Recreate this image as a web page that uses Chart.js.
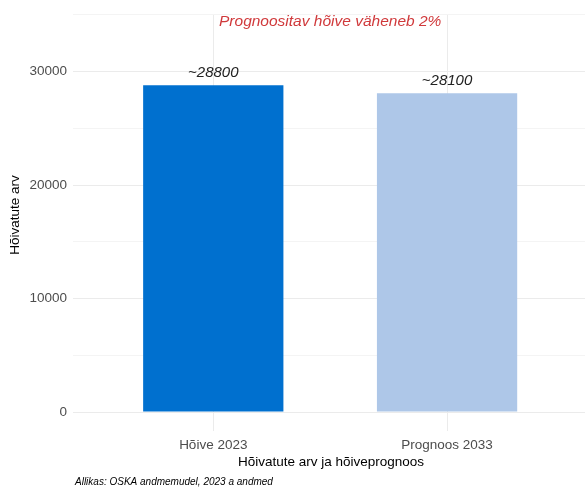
<!DOCTYPE html>
<html lang="et">
<head>
  <meta charset="UTF-8">
  <title>Hõivatute arv ja hõiveprognoos</title>
  <script src="https://cdn.jsdelivr.net/npm/chart.js"></script>
  <style>
    body { margin: 0; background: #fff; }
    #wrap { width: 585px; height: 487px; }
  </style>
</head>
<body>
  <div id="wrap"><canvas id="chartCanvas" width="585" height="487"></canvas></div>

  <script>
    // categories and values
    const categories = ['Hõive 2023', 'Prognoos 2033'];
    const employed = [28800, 28100];
    const barColors = ['#0070cf', '#aec7e8'];
    const valueLabels = ['~28800', '~28100'];
    const yTicks = [0, 5000, 10000, 15000, 20000, 25000, 30000, 35000];

    const subtitle = 'Prognoositav hõive väheneb 2%';
    const yTitle = 'Hõivatute arv';
    const xTitle = 'Hõivatute arv ja hõiveprognoos';
    const caption = 'Allikas: OSKA andmemudel, 2023 a andmed';

    const FONT = '"Liberation Sans", Arial, sans-serif';

    // text drawn on top of the plot: bar values, note, axis titles, source
    const textPlugin = {
      id: 'textPlugin',
      afterDatasetsDraw(chart) {
        const { ctx, scales: { x, y }, chartArea } = chart;
        ctx.save();

        ctx.fillStyle = '#222';
        ctx.font = 'italic 15px ' + FONT;
        ctx.textAlign = 'center';
        ctx.textBaseline = 'middle';
        employed.forEach((v, i) => {
          ctx.fillText(valueLabels[i], x.getPixelForValue(i + 1), y.getPixelForValue(v) - 12);
        });

        ctx.fillStyle = '#d0393b';
        ctx.font = 'italic 15.5px ' + FONT;
        ctx.fillText(subtitle, x.getPixelForValue(1.5), y.getPixelForValue(34400));

        ctx.fillStyle = '#000';
        ctx.font = '13.5px ' + FONT;
        ctx.fillText(xTitle, 331, 462);

        ctx.save();
        ctx.translate(15, 215);
        ctx.rotate(-Math.PI / 2);
        ctx.fillText(yTitle, 0, 0);
        ctx.restore();

        ctx.font = 'italic 10px ' + FONT;
        ctx.textAlign = 'left';
        ctx.fillText(caption, 75, 482);
        ctx.restore();
      }
    };

    new Chart(document.getElementById('chartCanvas').getContext('2d'), {
      type: 'bar',
      data: {
        datasets: [{
          data: employed.map((v, i) => ({ x: i + 1, y: v })),
          backgroundColor: barColors,
          borderWidth: 0,
          barPercentage: 0.6,
          categoryPercentage: 1
        }]
      },
      options: {
        responsive: false,
        animation: false,
        layout: { padding: { top: 12, right: 0, left: 0, bottom: 0 } },
        plugins: { legend: { display: false }, tooltip: { enabled: false } },
        scales: {
          x: {
            type: 'linear',
            min: 0.4,
            max: 2.59,
            offset: false,
            afterBuildTicks: s => { s.ticks = categories.map((c, i) => ({ value: i + 1 })); },
            afterFit: s => { s.height = 56; },
            ticks: {
              callback: v => categories[v - 1],
              color: '#4d4d4d',
              font: { family: FONT, size: 13.5 },
              padding: 6,
              maxRotation: 0
            },
            grid: { color: '#ebebeb', lineWidth: 1, drawTicks: false, offset: false },
            border: { display: false }
          },
          y: {
            min: -1670,
            max: 35070,
            afterBuildTicks: s => { s.ticks = yTicks.map(v => ({ value: v })); },
            afterFit: s => { s.width = 73; },
            ticks: {
              callback: v => (v % 10000 === 0 ? String(v) : ''),
              color: '#4d4d4d',
              font: { family: FONT, size: 13.5 },
              padding: 6
            },
            grid: {
              color: c => (c.tick && c.tick.value % 10000 === 0 ? '#ebebeb' : '#f4f4f4'),
              lineWidth: 1,
              drawTicks: false
            },
            border: { display: false }
          }
        }
      },
      plugins: [textPlugin]
    });
  </script>
</body>
</html>
